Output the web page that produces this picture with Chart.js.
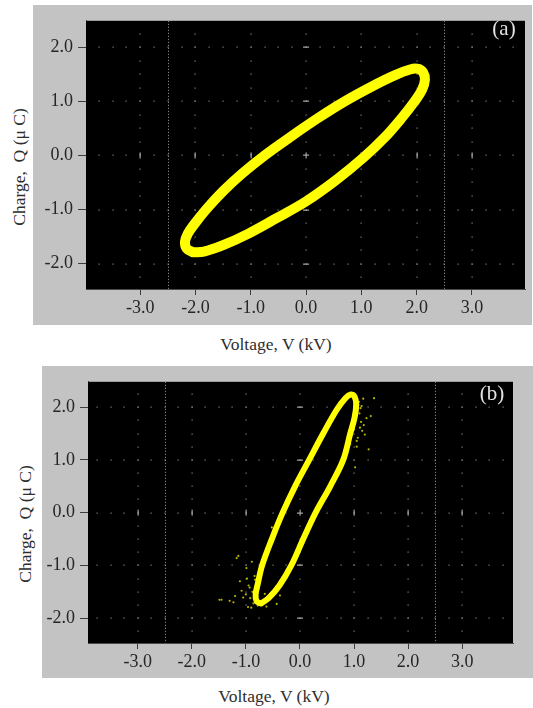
<!DOCTYPE html>
<html>
<head>
<meta charset="utf-8">
<script src="https://cdn.jsdelivr.net/npm/chart.js@4"></script>
<style>
  body { margin: 0; background: #fff; width: 533px; height: 708px; position: relative; overflow: hidden; }
  .panel { position: absolute; background: #c3c3c3; }
  .panel canvas { position: absolute; left: 0; top: 0; }
  .label { position: absolute; font-family: "Liberation Serif", "Times New Roman", serif; font-size: 17.5px; color: #2e2e2e; white-space: nowrap; transform: translate(-50%, -50%); }
  .label.vert { transform: translate(-50%, -50%) rotate(-90deg); }
  .tag { position: absolute; font-family: "Liberation Serif", "Times New Roman", serif; font-size: 21px; color: #e2e2e2; transform: translate(-50%, -50%); }
</style>
</head>
<body>
<div class="panel" style="left:33px; top:5px; width:499px; height:320px;">
  <canvas id="chartA" width="499" height="320"></canvas>
</div>
<div class="label vert" style="left:19px; top:167px;">Charge,&nbsp; Q (μ C)</div>
<div class="label" style="left:276px; top:344px;">Voltage, V (kV)</div>
<div class="tag" style="left:504px; top:28px;">(a)</div>

<div class="panel" style="left:42px; top:366px; width:491px; height:312px;">
  <canvas id="chartB" width="491" height="312"></canvas>
</div>
<div class="label vert" style="left:25px; top:524px;">Charge,&nbsp; Q (μ C)</div>
<div class="label" style="left:274px; top:696px;">Voltage, V (kV)</div>
<div class="tag" style="left:492px; top:393px;">(b)</div>

<script>
// Axis ticks
const voltageTicks = [-3, -2, -1, 0, 1, 2, 3];
const chargeTicks = [-2, -1, 0, 1, 2];
const cursorVoltages = [-2.5, 2.5];

// Q-V loop (a), traced once around from the lower-left end
const loopAVoltage = [-2.05, -2.16, -2.19, -2.14, -2.02, -1.80, -1.50, -1.15, -0.75, -0.30, 0.20, 0.70, 1.20, 1.60, 1.88,
                      2.03, 2.12, 2.15, 2.10, 1.95, 1.72, 1.42, 1.05, 0.55, 0.00, -0.55, -1.05, -1.50, -1.85, -2.05];
const loopACharge = [-1.79, -1.72, -1.60, -1.45, -1.27, -0.99, -0.66, -0.33, 0.00, 0.33, 0.68, 1.00, 1.28, 1.48, 1.59,
                     1.60, 1.53, 1.40, 1.22, 0.98, 0.68, 0.33, -0.03, -0.45, -0.85, -1.17, -1.45, -1.66, -1.78, -1.79];

// Q-V loop (b)
const loopBVoltage = [-0.72, -0.80, -0.82, -0.78, -0.70, -0.52, -0.32, -0.09, 0.17, 0.43, 0.68, 0.84, 0.94,
                      1.01, 1.04, 1.01, 0.93, 0.80, 0.56, 0.29, 0.06, -0.16, -0.38, -0.58, -0.72];
const loopBCharge = [-1.72, -1.68, -1.55, -1.35, -1.00, -0.50, 0.00, 0.50, 1.00, 1.50, 1.95, 2.17, 2.24,
                     2.20, 2.05, 1.80, 1.50, 1.00, 0.50, 0.00, -0.50, -1.00, -1.38, -1.62, -1.72];

// stray samples around the ends of loop (b)
const noiseBVoltage = [1.17, 1.23, 1.11, 1.05, 1.27, 0.96, 1.08, 0.99, 1.10, 0.93, 1.02, 1.20, 1.37, 1.31,
                       1.06, 1.13, 1.09, 1.15, 1.04, 1.12, 1.07, 1.00, 1.18, 1.05, 0.98, 1.14,
                       -1.45, -1.23, -1.11, -0.99, -0.89, -1.05, -0.93, -1.17, -0.56, -0.52, -0.37, -0.43,
                       -1.30, -0.96, -0.83, -0.65, -1.49, -1.14,
                       -0.88, -0.92, -0.86, -0.95, -1.00, -0.84, -0.90, -1.08, -0.78, -0.98, -1.20, -0.62];
const noiseBCharge = [2.16, 1.79, 1.61, 1.36, 1.20, 1.48, 2.04, 1.67, 1.88, 1.30, 0.86, 1.48, 2.17, 1.83,
                      1.95, 1.72, 2.10, 1.55, 1.85, 1.98, 1.42, 1.58, 1.66, 1.25, 1.75, 2.02,
                      -1.65, -1.70, -1.30, -1.05, -0.93, -1.61, -1.42, -0.86, -0.62, -0.28, -1.57, -1.73,
                      -1.67, -1.79, -1.27, -1.54, -1.65, -0.82,
                      -1.50, -1.62, -1.72, -1.38, -1.55, -1.20, -1.80, -1.48, -1.76, -1.25, -1.58, -1.78];

const toPoints = (xs, ys) => xs.map((v, i) => ({ x: v, y: ys[i] }));

const serif = '"Liberation Serif", "Times New Roman", serif';
const minorStep = 0.25;

// black screen, dotted graticule and cursor lines
const scopeGrid = {
    id: 'scopeGrid',
    beforeDatasetsDraw(chart) {
        const { ctx, chartArea: a, scales: { x, y } } = chart;
        ctx.save();
        ctx.fillStyle = '#000';
        ctx.fillRect(a.left, a.top, a.right - a.left, a.bottom - a.top);

        ctx.fillStyle = '#858585';
        const inside = (px, py) => px >= a.left && px <= a.right && py >= a.top && py <= a.bottom;
        for (const v of voltageTicks) {
            const px = x.getPixelForValue(v);
            for (let q = Math.ceil(y.min / minorStep) * minorStep; q <= y.max; q += minorStep) {
                const py = y.getPixelForValue(q);
                if (inside(px, py)) ctx.fillRect(Math.round(px) - 0.5, Math.round(py) - 0.5, 1.2, 1.2);
            }
        }
        for (const q of chargeTicks) {
            const py = y.getPixelForValue(q);
            for (let v = Math.ceil(x.min / minorStep) * minorStep; v <= x.max; v += minorStep) {
                const px = x.getPixelForValue(v);
                if (inside(px, py)) ctx.fillRect(Math.round(px) - 0.5, Math.round(py) - 0.5, 1.2, 1.2);
            }
        }

        // major marks on the centre lines
        const x0 = x.getPixelForValue(0), y0 = y.getPixelForValue(0);
        ctx.fillStyle = '#9a9a9a';
        for (const v of voltageTicks) {
            const px = x.getPixelForValue(v);
            ctx.fillRect(Math.round(px) - 0.5, y0 - 3, 1.3, 6);
        }
        for (const q of chargeTicks) {
            const py = y.getPixelForValue(q);
            ctx.fillRect(x0 - 3, Math.round(py) - 0.5, 6, 1.3);
        }

        // cursors
        ctx.strokeStyle = '#a0a0a0';
        ctx.lineWidth = 1;
        ctx.setLineDash([1, 2]);
        for (const v of cursorVoltages) {
            const px = Math.round(x.getPixelForValue(v)) + 0.5;
            ctx.beginPath();
            ctx.moveTo(px, a.top);
            ctx.lineTo(px, a.bottom);
            ctx.stroke();
        }
        ctx.restore();
    }
};

function makeScope(id, cfg) {
    const datasets = [{
        data: toPoints(cfg.loopV, cfg.loopQ),
        showLine: true,
        borderColor: '#ffff00',
        borderWidth: cfg.lineWidth,
        borderJoinStyle: 'round',
        borderCapStyle: 'round',
        tension: 0.35,
        pointRadius: 0,
        fill: false
    }];
    if (cfg.noiseV) {
        datasets.push({
            data: toPoints(cfg.noiseV, cfg.noiseQ),
            showLine: false,
            pointRadius: 1.1,
            pointBorderWidth: 0,
            pointBackgroundColor: 'rgba(255,255,0,0.7)'
        });
    }
    return new Chart(document.getElementById(id), {
        type: 'scatter',
        data: { datasets },
        options: {
            responsive: false,
            animation: false,
            devicePixelRatio: 1,
            layout: { padding: { left: 0, top: cfg.top, right: cfg.right, bottom: 0 } },
            plugins: { legend: { display: false }, tooltip: { enabled: false } },
            scales: {
                x: {
                    type: 'linear',
                    min: cfg.xMin, max: cfg.xMax,
                    afterBuildTicks: s => { s.ticks = voltageTicks.map(v => ({ value: v })); },
                    afterFit: s => { s.height = cfg.xHeight; },
                    grid: { drawOnChartArea: false, drawTicks: true, tickLength: 6, tickColor: '#3c3c3c' },
                    border: { display: true, color: '#4a4a4a' },
                    ticks: {
                        color: '#262626', padding: 2, maxRotation: 0, autoSkip: false,
                        font: { family: serif, size: 18 },
                        callback: v => v.toFixed(1)
                    }
                },
                y: {
                    type: 'linear',
                    min: cfg.yMin, max: cfg.yMax,
                    afterBuildTicks: s => { s.ticks = chargeTicks.map(v => ({ value: v })); },
                    afterFit: s => { s.width = cfg.yWidth; },
                    grid: { drawOnChartArea: false, drawTicks: true, tickLength: 8, tickColor: '#3c3c3c' },
                    border: { display: true, color: '#4a4a4a' },
                    ticks: {
                        color: '#262626', padding: 5, autoSkip: false,
                        font: { family: serif, size: 18 },
                        callback: v => v.toFixed(1)
                    }
                }
            }
        },
        plugins: [scopeGrid]
    });
}

makeScope('chartA', {
    loopV: loopAVoltage, loopQ: loopACharge, lineWidth: 10,
    xMin: -3.98, xMax: 3.96, yMin: -2.47, yMax: 2.49,
    top: 10, right: 7, xHeight: 36, yWidth: 53
});

makeScope('chartB', {
    loopV: loopBVoltage, loopQ: loopBCharge, lineWidth: 6,
    noiseV: noiseBVoltage, noiseQ: noiseBCharge,
    xMin: -3.92, xMax: 3.94, yMin: -2.47, yMax: 2.48,
    top: 10, right: 20, xHeight: 35, yWidth: 46
});
</script>
</body>
</html>
